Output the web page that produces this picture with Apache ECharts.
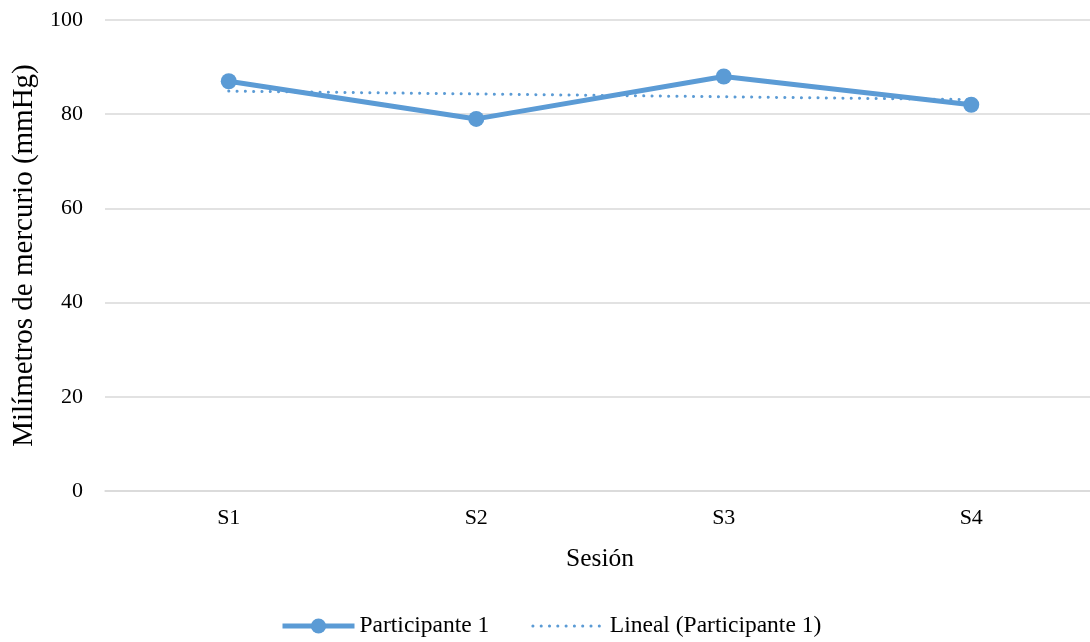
<!DOCTYPE html>
<html><head><meta charset="utf-8">
<script src="https://cdn.jsdelivr.net/npm/echarts@6/dist/echarts.min.js"></script>
<style>html,body{margin:0;padding:0;background:#fff}#c{width:1090px;height:642px}</style>
</head><body><div id="c"></div>
<script>
const categories = ['S1', 'S2', 'S3', 'S4'];
const participante1 = [87, 79, 88, 82];
const lineal = [84.9, 84.3, 83.7, 83.1];
const yTicks = { min: 0, max: 100, interval: 20 };

const font = 'Liberation Serif, Times New Roman, serif';
const blue = '#5B9BD5';
const chart = echarts.init(document.getElementById('c'), null, { renderer: 'canvas' });
chart.setOption({
  animation: false,
  textStyle: { fontFamily: font },
  grid: { left: 105, top: 20, right: -5, height: 471, outerBoundsMode: 'none', containLabel: false },
  xAxis: {
    type: 'category', data: categories, boundaryGap: true,
    axisLine: { show: true, lineStyle: { color: '#d9d9d9', width: 1.5 } },
    axisTick: { show: false },
    axisLabel: { color: '#000', fontSize: 22, fontFamily: font, margin: 16 },
    name: 'Sesión', nameLocation: 'middle', nameGap: 55,
    nameTextStyle: { color: '#000', fontSize: 25.5, fontFamily: font }
  },
  yAxis: {
    type: 'value', min: yTicks.min, max: yTicks.max, interval: yTicks.interval,
    axisLine: { show: false }, axisTick: { show: false },
    splitLine: { lineStyle: { color: '#d9d9d9', width: 1.5 } },
    axisLabel: { color: '#000', fontSize: 22, fontFamily: font, margin: 22 },
    name: 'Milímetros de mercurio (mmHg)', nameLocation: 'middle', nameGap: 60,
    nameTextStyle: { color: '#000', fontSize: 29, fontFamily: font }
  },
  legend: {
    top: 609, left: 275, itemGap: 42, itemWidth: 72, itemHeight: 19,
    textStyle: { color: '#000', fontSize: 23.5, fontFamily: font },
    data: [
      { name: 'Participante 1', lineStyle: { width: 5, color: blue }, itemStyle: { color: blue } },
      { name: 'Lineal (Participante 1)', lineStyle: { width: 3, color: blue, type: [0.1, 8.2], cap: 'round' }, itemStyle: { opacity: 0 } }
    ]
  },
  series: [
    {
      name: 'Lineal (Participante 1)', type: 'line', data: lineal,
      symbol: 'none', z: 1,
      lineStyle: { color: blue, width: 3, type: [0.1, 8.2], cap: 'round' },
      itemStyle: { color: blue }
    },
    {
      name: 'Participante 1', type: 'line', data: participante1,
      symbol: 'circle', symbolSize: 16, z: 2,
      lineStyle: { color: blue, width: 5 },
      itemStyle: { color: blue }
    }
  ]
});
</script></body></html>
